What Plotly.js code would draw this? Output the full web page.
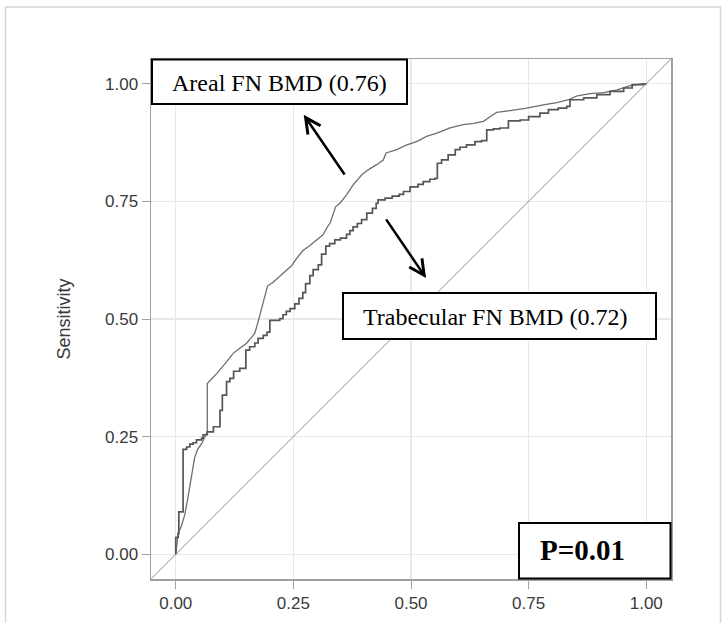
<!DOCTYPE html>
<html>
<head>
<meta charset="utf-8">
<script src="https://cdn.plot.ly/plotly-3.0.1.min.js"></script>
<style>html,body{margin:0;padding:0;background:#fff;}#chart{width:724px;height:623px;}</style>
</head>
<body>
<div id="chart"></div>
<script>
// Areal FN BMD ROC curve (1 - specificity, sensitivity)
const arealX = [0,0.002,0.005,0.012,0.019,0.025,0.030,0.035,0.040,0.046,0.055,0.062,0.067,0.067,0.087,0.108,0.122,0.136,0.150,0.162,0.168,0.175,0.186,0.195,0.207,0.228,0.246,0.257,0.270,0.285,0.296,0.313,0.322,0.328,0.340,0.349,0.363,0.377,0.395,0.409,0.427,0.441,0.447,0.470,0.491,0.512,0.533,0.555,0.583,0.611,0.633,0.654,0.668,0.682,0.711,0.746,0.781,0.810,0.835,0.853,0.881,0.909,0.938,0.966,0.994,1];
const arealY = [0,0.020,0.044,0.060,0.083,0.115,0.143,0.180,0.205,0.222,0.235,0.250,0.260,0.363,0.384,0.409,0.427,0.438,0.448,0.462,0.470,0.494,0.533,0.570,0.578,0.596,0.613,0.629,0.645,0.656,0.665,0.679,0.695,0.704,0.739,0.746,0.764,0.785,0.806,0.817,0.828,0.838,0.853,0.860,0.870,0.877,0.888,0.895,0.906,0.913,0.916,0.920,0.930,0.939,0.943,0.948,0.955,0.960,0.966,0.974,0.979,0.981,0.987,0.996,1.000,1];

// Trabecular FN BMD ROC curve (step corners: top of each riser)
const trabX = [0,0,0.005,0.0065,0.0156,0.023,0.030,0.037,0.044,0.055,0.058,0.067,0.080,0.094,0.099,0.108,0.115,0.123,0.136,0.149,0.157,0.168,0.175,0.186,0.194,0.200,0.221,0.228,0.235,0.243,0.253,0.262,0.270,0.276,0.285,0.292,0.303,0.310,0.319,0.327,0.338,0.350,0.363,0.370,0.377,0.386,0.395,0.406,0.418,0.426,0.430,0.445,0.460,0.475,0.484,0.498,0.515,0.526,0.540,0.551,0.556,0.565,0.579,0.594,0.604,0.618,0.636,0.650,0.661,0.675,0.689,0.707,0.732,0.750,0.774,0.792,0.813,0.831,0.838,0.867,0.895,0.923,0.952,0.970,0.994,1];
const trabY = [0,0.036,0.044,0.090,0.223,0.228,0.234,0.237,0.243,0.247,0.254,0.260,0.271,0.306,0.338,0.367,0.374,0.389,0.395,0.434,0.441,0.449,0.459,0.465,0.472,0.497,0.501,0.509,0.516,0.522,0.532,0.544,0.556,0.575,0.592,0.605,0.615,0.638,0.655,0.660,0.668,0.672,0.680,0.688,0.696,0.703,0.711,0.725,0.735,0.746,0.753,0.757,0.761,0.765,0.771,0.781,0.786,0.792,0.797,0.799,0.831,0.838,0.849,0.860,0.865,0.870,0.877,0.879,0.902,0.904,0.906,0.921,0.923,0.930,0.9375,0.945,0.948,0.952,0.966,0.970,0.977,0.984,0.991,0.998,1.000,1];

// Reference (chance) diagonal
const diagX = [-0.0526, 1.0526];
const diagY = [-0.0526, 1.0526];

const tickVals = [0, 0.25, 0.5, 0.75, 1];
const tickText = ["0.00", "0.25", "0.50", "0.75", "1.00"];

const labels = {
  areal: "Areal FN BMD (0.76)",
  trab: "Trabecular FN BMD (0.72)",
  p: "P=0.01",
  yTitle: "Sensitivity"
};

const traces = [
  {x: diagX, y: diagY, mode: 'lines', line: {color: '#b0b0b0', width: 1.1}, hoverinfo: 'skip'},
  {x: arealX, y: arealY, mode: 'lines', line: {color: '#6e6e6e', width: 1.3}, name: labels.areal},
  {x: trabX, y: trabY, mode: 'lines', line: {color: '#555555', width: 1.7, shape: 'hv'}, name: labels.trab}
];

const axisCommon = {
  range: [-0.0526, 1.0526],
  tickvals: tickVals,
  ticktext: tickText,
  ticks: 'outside',
  ticklen: 8,
  tickwidth: 1,
  tickcolor: '#a0a0a0',
  showline: true,
  linecolor: '#a0a0a0',
  linewidth: 1.5,
  mirror: true,
  showgrid: true,
  gridcolor: '#e8e8e8',
  gridwidth: 1.2,
  zeroline: false,
  tickfont: {family: 'Liberation Sans, Arial, sans-serif', size: 17, color: '#3a3a3a'},
  fixedrange: true
};

function px2x(p) { return (p - 151) / 520; }
function py2y(p) { return (579 - p) / 520; }

const layout = {
  width: 724,
  height: 623,
  margin: {l: 151, r: 53, t: 59, b: 44},
  paper_bgcolor: '#ffffff',
  plot_bgcolor: '#ffffff',
  showlegend: false,
  xaxis: Object.assign({}, axisCommon),
  yaxis: Object.assign({}, axisCommon, {
    title: {text: labels.yTitle, font: {family: 'Liberation Sans, Arial, sans-serif', size: 18, color: '#3a3a3a'}, standoff: 29}
  }),
  shapes: [
    {type: 'rect', xref: 'paper', yref: 'paper', x0: px2x(5.5), x1: px2x(720.5), y0: py2y(640), y1: py2y(7), line: {color: '#d6d6d6', width: 1.5}, layer: 'below'},
    {type: 'rect', xref: 'paper', yref: 'paper', x0: px2x(152), x1: px2x(407), y0: py2y(104), y1: py2y(59.5), line: {color: '#000', width: 2}, fillcolor: '#fff', layer: 'above'},
    {type: 'rect', xref: 'paper', yref: 'paper', x0: px2x(343), x1: px2x(656), y0: py2y(339), y1: py2y(293), line: {color: '#000', width: 2}, fillcolor: '#fff', layer: 'above'},
    {type: 'rect', xref: 'paper', yref: 'paper', x0: px2x(519), x1: px2x(670.5), y0: py2y(578.5), y1: py2y(523), line: {color: '#000', width: 2}, fillcolor: '#fff', layer: 'above'}
  ],
  annotations: [
    {xref: 'paper', yref: 'paper', x: px2x(279), y: py2y(83), text: labels.areal, showarrow: false, xanchor: 'center', yanchor: 'middle', font: {family: 'Liberation Serif, Times New Roman, serif', size: 24, color: '#000'}},
    {xref: 'paper', yref: 'paper', x: px2x(495), y: py2y(317), text: labels.trab, showarrow: false, xanchor: 'center', yanchor: 'middle', font: {family: 'Liberation Serif, Times New Roman, serif', size: 24, color: '#000'}},
    {xref: 'paper', yref: 'paper', x: px2x(538), y: py2y(550), text: '<b>' + labels.p + '</b>', showarrow: false, xanchor: 'left', yanchor: 'middle', font: {family: 'Liberation Serif, Times New Roman, serif', size: 29, color: '#000'}},
    {xref: 'x', yref: 'y', axref: 'x', ayref: 'y', x: 0.272, y: 0.934, ax: 0.361, ay: 0.804, text: '', showarrow: true, arrowhead: 5, arrowsize: 1.2, arrowwidth: 2.5, arrowcolor: '#000', standoff: 0},
    {xref: 'x', yref: 'y', axref: 'x', ayref: 'y', x: 0.532, y: 0.587, ax: 0.445, ay: 0.715, text: '', showarrow: true, arrowhead: 5, arrowsize: 1.2, arrowwidth: 2.5, arrowcolor: '#000', standoff: 0}
  ]
};

Plotly.newPlot('chart', traces, layout, {displayModeBar: false, staticPlot: true});
</script>
</body>
</html>
